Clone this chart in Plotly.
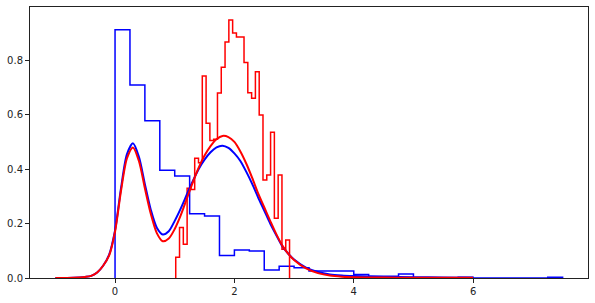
import numpy as np
import plotly.graph_objects as go

# Blue histogram (density), 30 bins of width 0.25 from 0 to 7.5
blue_hist_start = 0.0
blue_hist_end = 7.5
blue_hist = [0.912, 0.709, 0.578, 0.396, 0.375, 0.236, 0.228, 0.083, 0.103, 0.099,
             0.029, 0.043, 0.038, 0.026, 0.026, 0.026, 0.013, 0.006, 0.006, 0.015,
             0.0, 0.0, 0.0, 0.003, 0.0, 0.0, 0.0, 0.0, 0.0, 0.003]

# Red histogram (density), 30 bins
red_hist_start = 1.017
red_hist_end = 2.924
red_hist = [0.076, 0.186, 0.124, 0.330, 0.325, 0.440, 0.424, 0.742, 0.569, 0.505,
            0.510, 0.680, 0.775, 0.867, 0.948, 0.900, 0.886, 0.886, 0.792, 0.681,
            0.661, 0.758, 0.599, 0.360, 0.379, 0.536, 0.220, 0.379, 0.106, 0.140]

# KDE curves
kde_x = [-1.0, -0.8, -0.6, -0.5, -0.4, -0.3, -0.2, -0.1, 0.0, 0.1, 0.2, 0.3, 0.4, 0.5,
         0.6, 0.7, 0.8, 0.9, 1.0, 1.1, 1.2, 1.3, 1.4, 1.5, 1.6, 1.7, 1.8, 1.9, 2.0,
         2.1, 2.2, 2.3, 2.4, 2.5, 2.6, 2.7, 2.8, 2.9, 3.0, 3.2, 3.4, 3.6, 3.8, 4.0,
         4.5, 5.0, 5.5, 6.0]
blue_kde = [0.000, 0.000, 0.002, 0.004, 0.008, 0.020, 0.045, 0.085, 0.175, 0.330, 0.455,
            0.495, 0.445, 0.345, 0.250, 0.185, 0.160, 0.172, 0.210, 0.255, 0.305, 0.355,
            0.400, 0.435, 0.462, 0.480, 0.486, 0.478, 0.458, 0.430, 0.390, 0.345, 0.295,
            0.248, 0.200, 0.158, 0.118, 0.090, 0.068, 0.038, 0.022, 0.013, 0.009, 0.007,
            0.004, 0.003, 0.002, 0.001]
red_kde = [0.000, 0.000, 0.002, 0.004, 0.008, 0.020, 0.045, 0.082, 0.170, 0.320, 0.440,
           0.480, 0.430, 0.330, 0.235, 0.165, 0.135, 0.145, 0.180, 0.230, 0.290, 0.350,
           0.405, 0.450, 0.485, 0.510, 0.522, 0.518, 0.500, 0.465, 0.420, 0.367, 0.310,
           0.260, 0.210, 0.162, 0.120, 0.090, 0.066, 0.035, 0.018, 0.009, 0.005, 0.003,
           0.0015, 0.001, 0.001, 0.0005]

x_ticks = [0, 2, 4, 6]
y_ticks = [0.0, 0.2, 0.4, 0.6, 0.8]


def step_outline(start, end, heights):
    edges = np.linspace(start, end, len(heights) + 1)
    xs = [edges[0]] + list(edges)
    ys = [0.0] + list(heights) + [0.0]
    return xs, ys


fig = go.Figure()
bx, by = step_outline(blue_hist_start, blue_hist_end, blue_hist)
rx, ry = step_outline(red_hist_start, red_hist_end, red_hist)
fig.add_trace(go.Scatter(x=bx, y=by, mode="lines", line=dict(color="blue", width=1.5, shape="hv"),
                         showlegend=False, hoverinfo="skip"))
fig.add_trace(go.Scatter(x=rx, y=ry, mode="lines", line=dict(color="red", width=1.5, shape="hv"),
                         showlegend=False, hoverinfo="skip"))
fig.add_trace(go.Scatter(x=kde_x, y=blue_kde, mode="lines",
                         line=dict(color="blue", width=2, shape="spline", smoothing=0.8),
                         showlegend=False))
fig.add_trace(go.Scatter(x=kde_x, y=red_kde, mode="lines",
                         line=dict(color="red", width=2, shape="spline", smoothing=0.8),
                         showlegend=False))

axis_common = dict(showgrid=False, zeroline=False, showline=True, linecolor="#222",
                   linewidth=1, mirror=True, ticks="outside", ticklen=4, tickwidth=1,
                   tickcolor="#222", automargin=False,
                   tickfont=dict(family="DejaVu Sans", size=10, color="#222"))
fig.update_xaxes(range=[-1.425, 7.925], tickvals=x_ticks, ticktext=[str(t) for t in x_ticks],
                 **axis_common)
fig.update_yaxes(range=[0, 0.996], tickvals=y_ticks, ticktext=[f"{t:.1f}" for t in y_ticks],
                 **axis_common)
fig.update_layout(width=595, height=303, margin=dict(l=30, r=7, t=7, b=25),
                  paper_bgcolor="white", plot_bgcolor="white", showlegend=False)
fig.write_html("out.html", config={"displayModeBar": False},
               post_script="document.body.style.margin='0px';")
